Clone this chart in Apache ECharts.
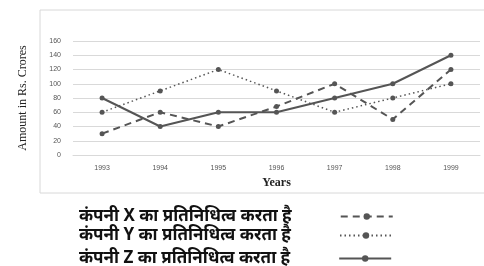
<!DOCTYPE html>
<html>
<head>
<meta charset="utf-8">
<script src="https://cdn.jsdelivr.net/npm/echarts@6/dist/echarts.min.js"></script>
<style>
  html, body { margin: 0; padding: 0; background: #fff; }
  #chart-container { width: 484px; height: 266px; }
</style>
</head>
<body>
<div id="chart-container"></div>
<script>
const years = ['1993', '1994', '1995', '1996', '1997', '1998', '1999'];
const companyX = [30, 60, 40, 68, 100, 50, 120];
const companyY = [60, 90, 120, 90, 60, 80, 100];
const companyZ = [80, 40, 60, 60, 80, 100, 140];
const nameX = 'कंपनी X का प्रतिनिधित्व करता है';
const nameY = 'कंपनी Y का प्रतिनिधित्व करता है';
const nameZ = 'कंपनी Z का प्रतिनिधित्व करता है';

let myChart = echarts.init(document.getElementById('chart-container'), null, {
	renderer: 'canvas',
});

const lineColor = '#555';

function seriesOf(name, data, type, width) {
	return {
		name: name,
		type: 'line',
		data: data,
		symbol: 'circle',
		symbolSize: 5,
		itemStyle: { color: lineColor },
		lineStyle: { color: lineColor, width: width, type: type },
	};
}

function legendOf(name, top) {
	return {
		left: 74,
		top: top,
		align: 'right',
		itemWidth: 52,
		itemHeight: 8,
		textStyle: {
			fontSize: 17,
			fontWeight: 'bold',
			color: '#111',
			fontFamily: 'Noto Sans, sans-serif',
			padding: [0, 44, 0, 0],
		},
		data: [name],
	};
}

myChart.setOption({
	animation: false,
	graphic: [
		{
			type: 'rect',
			shape: { x: 40, y: 10, width: 450, height: 183 },
			style: { fill: 'none', stroke: '#d8d8d8', lineWidth: 1 },
		},
	],
	grid: { left: 73, right: 4, top: 41, bottom: 111 },
	legend: [legendOf(nameX, 203), legendOf(nameY, 222), legendOf(nameZ, 245)],
	xAxis: {
		type: 'category',
		data: years,
		name: 'Years',
		nameLocation: 'middle',
		nameGap: 22,
		nameTextStyle: {
			fontFamily: 'Liberation Serif, serif',
			fontWeight: 'bold',
			fontSize: 12,
			color: '#222',
		},
		axisLine: { lineStyle: { color: '#d9d9d9' } },
		axisTick: { show: false },
		axisLabel: { fontSize: 7, color: '#555', margin: 10 },
	},
	yAxis: {
		type: 'value',
		min: 0,
		max: 160,
		interval: 20,
		name: 'Amount in Rs. Crores',
		nameLocation: 'middle',
		nameGap: 44,
		nameTextStyle: {
			fontFamily: 'Liberation Serif, serif',
			fontSize: 12,
			color: '#222',
		},
		axisLabel: { fontSize: 7, color: '#555', margin: 12 },
		splitLine: { lineStyle: { color: '#d9d9d9' } },
	},
	series: [
		seriesOf(nameX, companyX, [7, 5], 2),
		seriesOf(nameY, companyY, [1.5, 3], 1.5),
		seriesOf(nameZ, companyZ, 'solid', 2),
	],
});

window.addEventListener('resize', myChart.resize);
</script>
</body>
</html>
